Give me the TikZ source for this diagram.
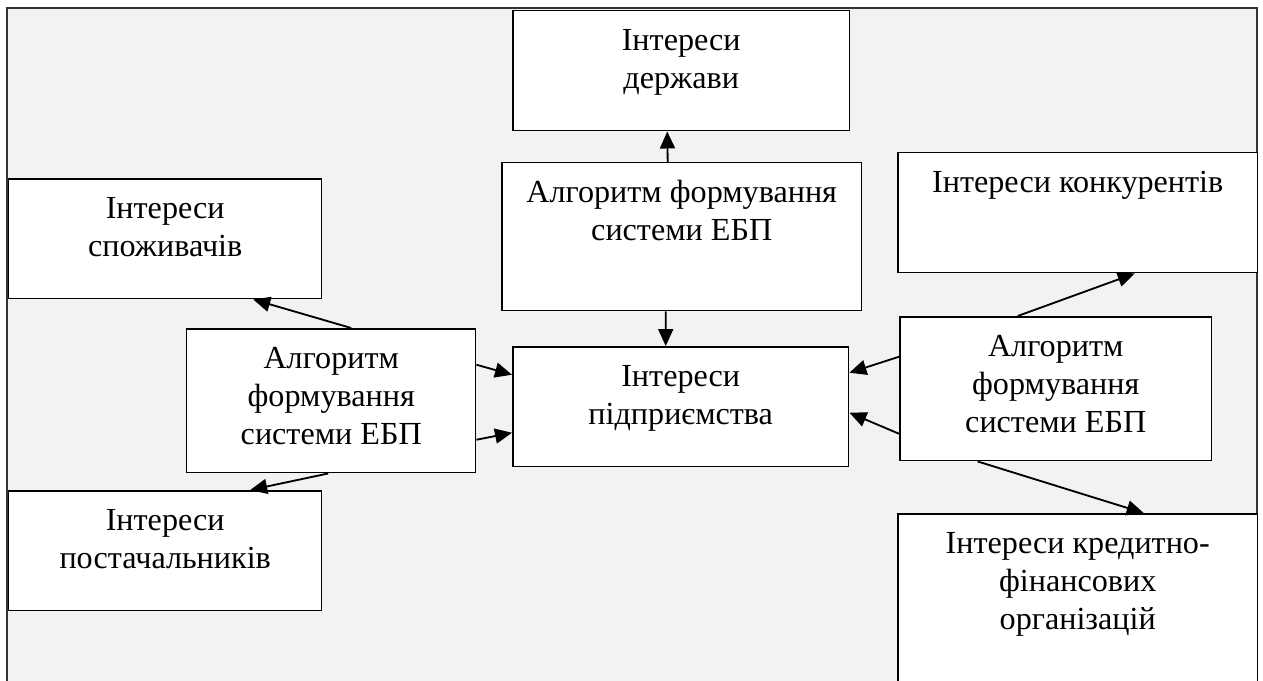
\documentclass[tikz,border=0pt]{standalone}
\usepackage{fontspec}
\setmainfont{Liberation Serif}
\usetikzlibrary{arrows.meta, calc}

% top-aligned text inside a fixed-size box
\newcommand{\boxtext}[3]{\parbox[c][#2][t]{#1}{\centering\vspace*{0.27cm}\strut #3\strut}}

\begin{document}
\begin{tikzpicture}[x=0.02cm, y=-0.02cm, >={Triangle[length=0.34cm, width=0.3cm]}]
	\tikzstyle{block} = [draw, line width=0.85pt, fill=white, inner sep=0pt, anchor=north west, font=\fontsize{18.3pt}{21.6pt}\selectfont]
	\tikzstyle{link} = [->, line width=1.05pt]

	\useasboundingbox (0,0) rectangle (1263,680);
	\draw[fill=black!5, draw=black!80, line width=0.7pt] (7,8) rectangle (1257,700);

	% boxes
	\node[block] (state) at (512,10) {\boxtext{6.74cm}{2.40cm}{Інтереси\\держави}};
	\node[block] (algT) at (501,162) {\boxtext{7.20cm}{2.96cm}{Алгоритм формування\\системи ЕБП}};
	\node[block] (cons) at (8,178) {\boxtext{6.26cm}{2.40cm}{Інтереси\\споживачів}};
	\node[block] (comp) at (897,152) {\boxtext{7.20cm}{2.40cm}{Інтереси конкурентів}};
	\node[block] (algR) at (899,316) {\boxtext{6.24cm}{2.88cm}{Алгоритм\\формування\\системи ЕБП}};
	\node[block] (algL) at (186,328) {\boxtext{5.78cm}{2.88cm}{Алгоритм\\формування\\системи ЕБП}};
	\node[block] (ent) at (512,346) {\boxtext{6.72cm}{2.40cm}{Інтереси\\підприємства}};
	\node[block] (supp) at (8,490) {\boxtext{6.26cm}{2.40cm}{Інтереси\\постачальників}};
	\node[block] (cred) at (897,513) {\boxtext{7.20cm}{3.60cm}{Інтереси кредитно-\\фінансових\\організацій}};

	% arrows
	\draw[link] ($(algT.north)+(-14,0)$) -- ($(state.south)+(-14,0)$);
	\draw[link] ($(algT.south)+(-16,0)$) -- ($(ent.north)+(-15,0)$);

	\draw[link] ($(algL.north)+(20,0)$) -- ($(cons.south)+(88,0)$);
	\draw[link] ($(algL.south)+(-3,0)$) -- ($(supp.north)+(85,0)$);
	\draw[link] ($(algL.east)+(0,-36)$) -- ($(ent.west)+(0,-32)$);
	\draw[link] ($(algL.east)+(0,39)$) -- ($(ent.west)+(0,26)$);

	\draw[link] ($(algR.north)+(-38,0)$) -- ($(comp.south)+(57,0)$);
	\draw[link] ($(algR.west)+(0,-32)$) -- ($(ent.east)+(0,-34)$);
	\draw[link] ($(algR.west)+(0,45)$) -- ($(ent.east)+(0,6)$);
	\draw[link] ($(algR.south)+(-78,0)$) -- ($(cred.north)+(66,0)$);
\end{tikzpicture}
\end{document}
